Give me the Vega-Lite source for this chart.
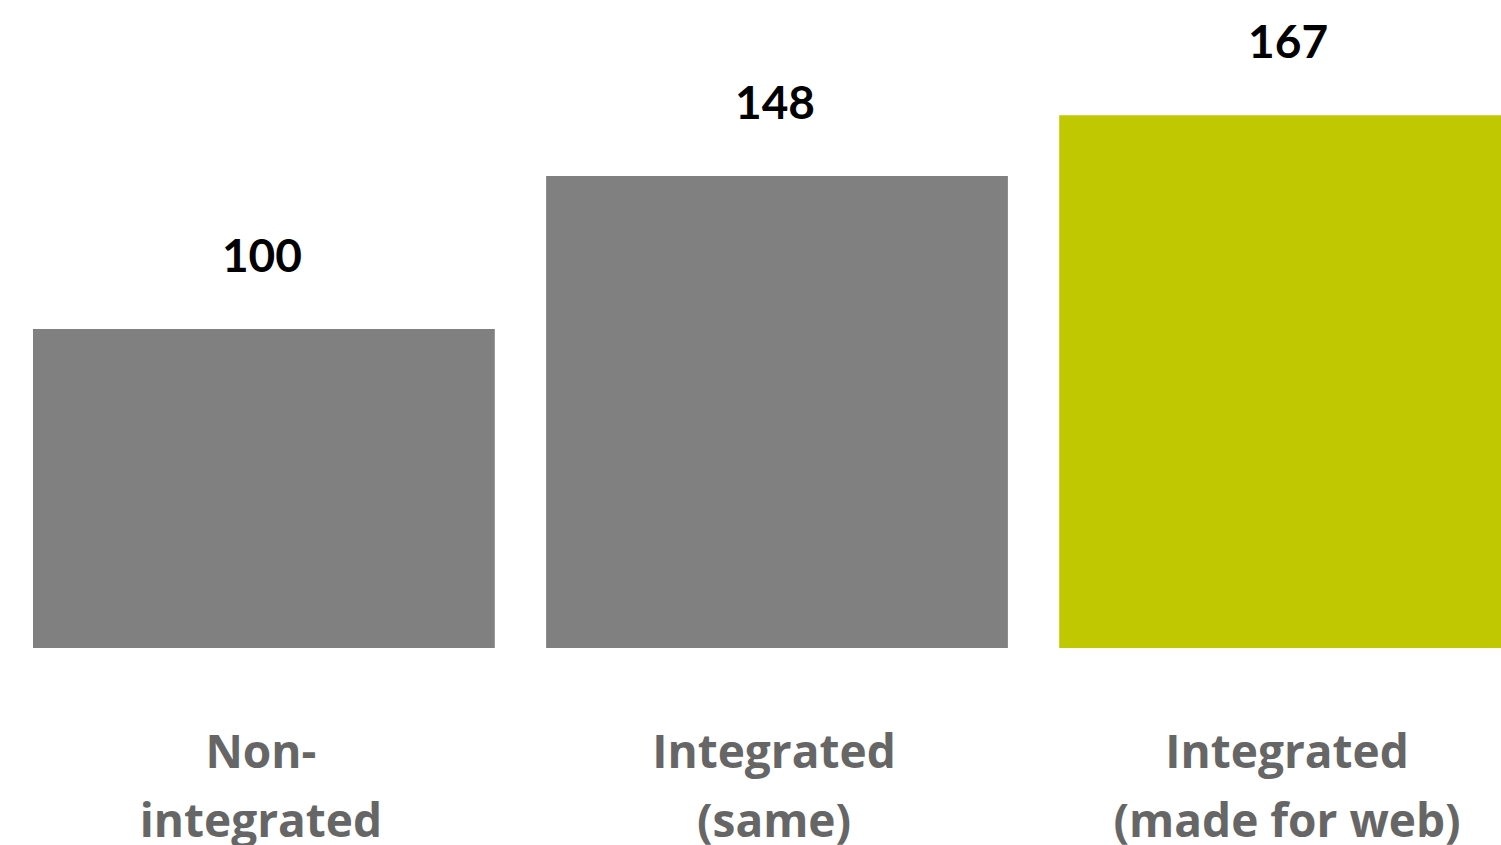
{
  "$schema": "https://vega.github.io/schema/vega-lite/v6.json",
  "width": 1468,
  "height": 638,
  "autosize": {"type": "none"},
  "padding": {"left": 33, "top": 10, "right": 0, "bottom": 197},
  "background": "white",
  "config": {"view": {"stroke": null}, "font": "Open Sans"},
  "data": {
    "values": [
      {"cat": "Non-\nintegrated", "value": 100, "highlight": "no"},
      {"cat": "Integrated\n(same)", "value": 148, "highlight": "no"},
      {"cat": "Integrated\n(made for web)", "value": 167, "highlight": "yes"}
    ]
  },
  "encoding": {
    "x": {"field": "cat", "type": "nominal", "sort": null, "axis": null,
          "scale": {"range": [0, 1488], "paddingInner": 0.1, "paddingOuter": 0}}
  },
  "layer": [
    {
      "mark": {"type": "bar"},
      "encoding": {
        "y": {"field": "value", "type": "quantitative", "axis": null, "scale": {"domain": [0, 200], "nice": false}},
        "color": {"field": "highlight", "type": "nominal", "legend": null,
                  "scale": {"domain": ["no", "yes"], "range": ["#808080", "#BFC800"]}}
      }
    },
    {
      "mark": {"type": "text", "baseline": "alphabetic", "align": "center", "dy": -57, "dx": -2, "fontSize": 46, "fontWeight": "bold", "color": "#000000", "font": "Lato"},
      "encoding": {
        "y": {"field": "value", "type": "quantitative"},
        "text": {"field": "value", "type": "quantitative"}
      }
    },
    {
      "mark": {"type": "text", "baseline": "alphabetic", "align": "center", "dy": 120, "dx": -3, "fontSize": 46, "fontWeight": "bold", "color": "#666666", "lineBreak": "\n", "lineHeight": 69},
      "encoding": {
        "y": {"datum": 0, "type": "quantitative"},
        "text": {"field": "cat", "type": "nominal"}
      }
    }
  ]
}
